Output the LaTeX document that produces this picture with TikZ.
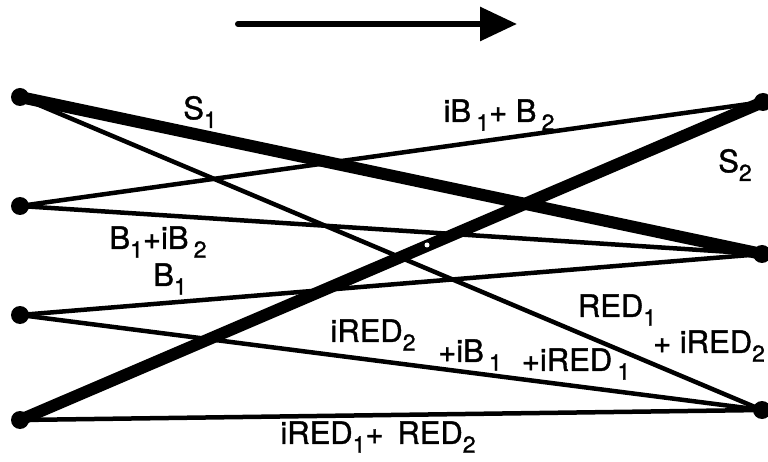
\documentclass[tikz,border=0pt]{standalone}
\usepackage{fontspec}
\setmainfont{TeX Gyre Heros}[FakeBold=1.2]
\usetikzlibrary{arrows.meta}
\newcommand\sbx[1]{\raisebox{-0.28em}{\fontsize{23pt}{23pt}\selectfont #1}}
\tikzset{
  dot/.style={circle,fill=black,inner sep=0pt,minimum size=18pt},
  thin edge/.style={line width=4.5pt},
  thick edge/.style={line width=12pt},
  lab/.style={inner sep=0pt,font=\fontsize{31pt}{33pt}\selectfont}
}
\begin{document}
\begin{tikzpicture}[x=1pt,y=-1pt]
\useasboundingbox (0,0) rectangle (768,462);
% end points
\node[dot] (L1) at (20,97) {};
\node[dot] (L2) at (20,206) {};
\node[dot] (L3) at (20,315) {};
\node[dot] (L4) at (20,420) {};
\node[dot] (R1) at (763,102) {};
\node[dot] (R2) at (762,254) {};
\node[dot] (R3) at (762,410) {};
% thin connectors
\draw[thin edge] (L1.center) -- (R3.center);
\draw[thin edge] (L2.center) -- (R1.center);
\draw[thin edge] (L2.center) -- (R2.center);
\draw[thin edge] (L3.center) -- (R2.center);
\draw[thin edge] (L3.center) -- (R3.center);
\draw[thin edge] (L4.center) -- (R3.center);
% thick connectors
\draw[thick edge] (L1.center) -- (R2.center);
\draw[thick edge] (L4.center) -- (R1.center);
\fill[white] (427,245) circle (2.5pt);
% direction arrow
\coordinate (A0) at (238,24);
\coordinate (A1) at (517,24);
\draw[line width=6pt,line cap=round,-{Triangle[length=37pt,width=33pt]}] (A0) -- (A1);
% labels
\node[lab] (s1) at (200,112) {S\sbx{1}};
\node[lab] (b12) at (499,115) {iB\,\sbx{1}+ B\,\sbx{2}};
\node[lab] (s2) at (735,165) {S\sbx{2}};
\node[lab] (b1ib2) at (158,242) {B\sbx{1}+iB\,\sbx{2}};
\node[lab] (b1) at (170,279) {B\sbx{1}};
\node[lab] (ired2) at (373,335) {iRED\sbx{2}};
\node[lab] (ib1) at (470,355) {+iB\,\sbx{1}};
\node[lab] (ired1) at (576,364) {+iRED\,\sbx{1}};
\node[lab] (red1) at (617,310) {RED\sbx{1}};
\node[lab] (pired2) at (709,346) {+ iRED\sbx{2}};
\node[lab] (bot) at (378,437) {iRED\sbx{1}+\, RED\sbx{2}};
\end{tikzpicture}
\end{document}
